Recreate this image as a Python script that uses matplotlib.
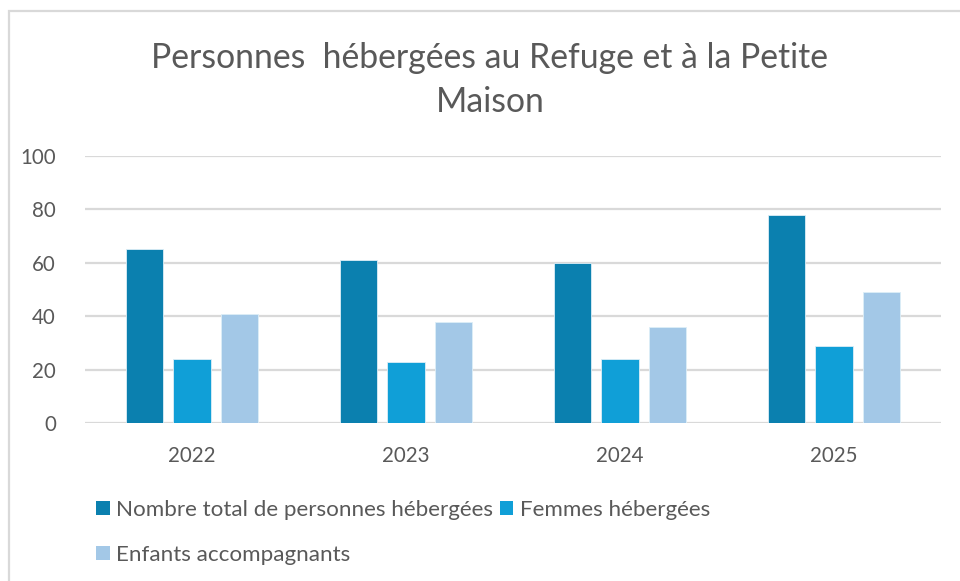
import matplotlib
matplotlib.use("Agg")
import matplotlib.pyplot as plt
import numpy as np
from matplotlib.patches import Rectangle, Patch

# Data
years = ["2022", "2023", "2024", "2025"]
total = [65, 61, 60, 78]
femmes = [24, 23, 24, 29]
enfants = [41, 38, 36, 49]
series_names = ["Nombre total de personnes hébergées", "Femmes hébergées",
                "Enfants accompagnants"]
yticks = [0, 20, 40, 60, 80, 100]

C_DARK = "#0B80AF"
C_MID = "#109FD7"
C_LIGHT = "#A3C8E7"
GRID = "#D9D9D9"
TXT = "#595959"

plt.rcParams["font.family"] = ["Lato", "DejaVu Sans"]

fig = plt.figure(figsize=(9.6, 5.81), dpi=100)
ax = fig.add_axes([85 / 960, 1 - 423.3 / 581, 856 / 960, 267.6 / 581])

x = np.arange(len(years))
w = 0.175
step = 0.221
for vals, col, off in [(total, C_DARK, -step), (femmes, C_MID, 0), (enfants, C_LIGHT, step)]:
    ax.bar(x + off, vals, width=w, color=col, edgecolor="#DDEEF7", linewidth=0.6, zorder=3)

ax.set_xlim(-0.5, 3.5)
ax.set_ylim(0, 100)
ax.set_yticks(yticks)
ax.set_xticks(x)
ax.set_xticklabels(years)
ax.yaxis.grid(True, color=GRID, linewidth=1.6, zorder=0)
for s in ax.spines.values():
    s.set_visible(False)
ax.tick_params(length=0, labelsize=14.8, colors=TXT)
ax.tick_params(axis="y", pad=21)
ax.tick_params(axis="x", pad=16)

fig.text(490 / 960, 1 - 58 / 581, "Personnes  hébergées au Refuge et à la Petite",
         ha="center", va="center", fontsize=24.3, color=TXT)
fig.text(490 / 960, 1 - 102 / 581, "Maison",
         ha="center", va="center", fontsize=24.3, color=TXT)

# legend: column-wise fill, so order Nombre, Enfants | Femmes
handles = [Patch(facecolor=C_DARK), Patch(facecolor=C_LIGHT), Patch(facecolor=C_MID)]
labels = [series_names[0], series_names[2], series_names[1]]
fig.legend(handles, labels, ncol=2, loc="upper left",
           bbox_to_anchor=(76 / 960, 1 - 480 / 581), frameon=False,
           fontsize=16.1, labelcolor=TXT, handlelength=0.6, handleheight=0.6,
           handletextpad=0.3, columnspacing=0.3, labelspacing=1.1)

# chart frame
fig.patches.append(Rectangle((9 / 960, -0.1), 1.0, 1 - 11 / 581 + 0.1,
                             transform=fig.transFigure, fill=False,
                             edgecolor=GRID, linewidth=1.6))

fig.savefig("out.png", dpi=100)
